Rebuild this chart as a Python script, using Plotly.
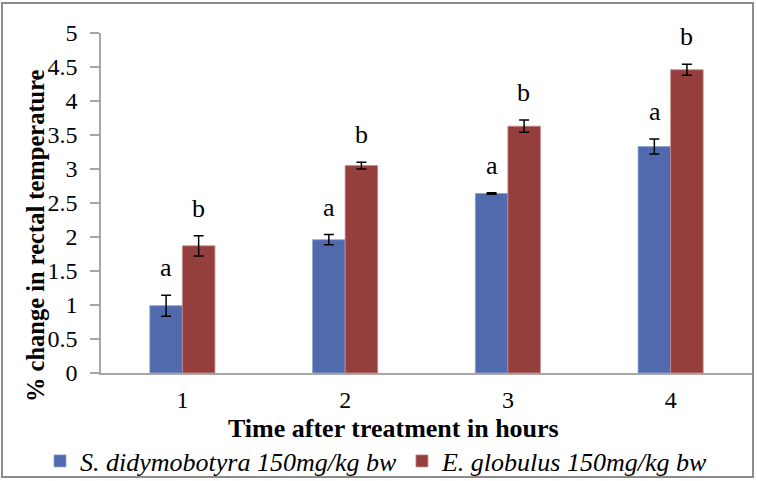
import plotly.graph_objects as go

hours = ["1", "2", "3", "4"]
s_didy = [0.99, 1.96, 2.64, 3.33]
s_didy_err = [0.155, 0.075, 0.01, 0.11]
e_glob = [1.87, 3.05, 3.63, 4.46]
e_glob_err = [0.15, 0.05, 0.09, 0.08]
s_letters = ["a", "a", "a", "a"]
e_letters = ["b", "b", "b", "b"]

W, H = 757, 481
L, R, T, B = 101, 5, 33, 108
pw, ph = W - L - R, H - T - B

FONT = "Liberation Serif, Times New Roman, serif"
BLUE = "#5169AD"
RED = "#943E3E"

fig = go.Figure()
fig.add_trace(go.Bar(
    x=hours, y=s_didy, name="<i>S. didymobotyra 150mg/kg bw</i>",
    marker=dict(color=BLUE, line=dict(color="#8E9FD0", width=0.8)),
    error_y=dict(type="data", array=s_didy_err, color="black", thickness=1.5, width=5),
))
fig.add_trace(go.Bar(
    x=hours, y=e_glob, name="<i>E. globulus 150mg/kg bw</i>",
    marker=dict(color=RED, line=dict(color="#C88A8A", width=0.8)),
    error_y=dict(type="data", array=e_glob_err, color="black", thickness=1.5, width=5),
))

anns = []
for i, h in enumerate(hours):
    anns.append(dict(x=i, y=s_didy[i] + s_didy_err[i], text=s_letters[i], showarrow=False,
                     xref="x", yref="y", xshift=-16, yshift=11, yanchor="bottom",
                     font=dict(family=FONT, size=26, color="black")))
    anns.append(dict(x=i, y=e_glob[i] + e_glob_err[i], text=e_letters[i], showarrow=False,
                     xref="x", yref="y", xshift=16, yshift=11, yanchor="bottom",
                     font=dict(family=FONT, size=26, color="black")))

# x-axis title
anns.append(dict(x=(393 - L) / pw, y=(H - B - 428) / ph, xref="paper", yref="paper",
                 text="<b>Time after treatment in hours</b>", showarrow=False,
                 xanchor="center", yanchor="middle",
                 font=dict(family=FONT, size=26, color="black")))
# y-axis title
anns.append(dict(x=(35 - L) / pw, y=(H - B - 236) / ph, xref="paper", yref="paper",
                 text="<b>% change in rectal temperature</b>", showarrow=False, textangle=-90,
                 xanchor="center", yanchor="middle",
                 font=dict(family=FONT, size=24.5, color="black")))

fig.update_layout(
    width=W, height=H,
    margin=dict(l=L, r=R, t=T, b=B, autoexpand=False),
    paper_bgcolor="white", plot_bgcolor="white",
    barmode="group", bargap=0.6, bargroupgap=0,
    font=dict(family=FONT, size=20, color="black"),
    showlegend=True,
    legend=dict(orientation="h", x=(40 - L) / pw, y=(H - B - 461) / ph,
                xanchor="left", yanchor="middle",
                font=dict(family=FONT, size=26, color="black"),
                itemwidth=30, tracegroupgap=0, bgcolor="rgba(0,0,0,0)"),
    annotations=anns,
    shapes=[dict(type="rect", xref="paper", yref="paper",
                 x0=(2 - L) / pw, x1=(753 - L) / pw,
                 y0=(H - B - 477) / ph, y1=(H - B - 3) / ph,
                 line=dict(color="#8C8C8C", width=2), fillcolor="rgba(0,0,0,0)", layer="below")],
)
fig.update_xaxes(type="category", range=[-0.5, 3.5], showline=True, linecolor="#A6A6A6", linewidth=1.5,
                 ticks="", showgrid=False, tickfont=dict(family=FONT, size=24), ticklabelstandoff=4)
fig.update_yaxes(range=[0, 5], dtick=0.5, showline=True, linecolor="#A6A6A6", linewidth=1.5,
                 ticks="outside", ticklen=9, tickcolor="#A6A6A6", tickwidth=1.5,
                 showgrid=False, zeroline=False, tickfont=dict(family=FONT, size=24),
                 ticklabelstandoff=8)

fig.write_html("out.html", config={"displayModeBar": False},
               post_script="document.body.style.margin='0';document.body.style.overflow='hidden';")
